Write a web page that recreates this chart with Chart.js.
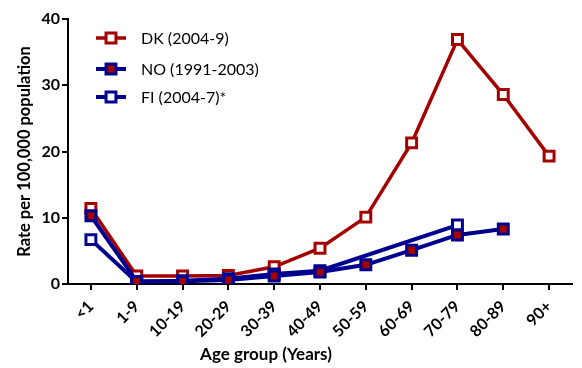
<!DOCTYPE html>
<html>
<head>
<meta charset="utf-8">
<script src="https://cdn.jsdelivr.net/npm/chart.js@4/dist/chart.umd.min.js"></script>
<style>
  html, body { margin: 0; padding: 0; background: #fff; }
  #wrap { width: 582px; height: 368px; }
</style>
</head>
<body>
<div id="wrap"><canvas id="c" width="582" height="368"></canvas></div>
<script>
// Age groups along the x axis
const ageGroups = ['<1', '1-9', '10-19', '20-29', '30-39', '40-49', '50-59', '60-69', '70-79', '80-89', '90+'];
// Incidence rates per 100,000 population
const dkRates = [11.4, 1.2, 1.2, 1.3, 2.6, 5.4, 10.1, 21.3, 36.9, 28.6, 19.3];
const noRates = [10.3, 0.4, 0.4, 0.6, 1.2, 1.8, 2.9, 5.1, 7.4, 8.3, null];
const fiRates = [6.7, 0.3, 0.5, 0.8, 1.5, 2.0, null, null, 8.9, null, null];
const seriesNames = ['DK (2004-9)', 'NO (1991-2003)', 'FI (2004-7)*'];
const yTicks = [0, 10, 20, 30, 40];

const RED = '#a50000';
const BLUE = '#00008f';
const FONT = 'Lato, "Open Sans", sans-serif';

function seriesStyle(color, fill, width, order) {
  return {
    borderColor: color,
    backgroundColor: fill,
    borderWidth: width,
    pointStyle: 'rect',
    pointRadius: 7,
    pointHoverRadius: 7,
    pointBorderWidth: 3,
    pointBorderColor: color,
    pointBackgroundColor: fill,
    tension: 0,
    spanGaps: true,
    fill: false,
    order: order
  };
}

const datasets = [
  Object.assign({ label: seriesNames[0], data: dkRates }, seriesStyle(RED, '#ffffff', 3.5, 3)),
  Object.assign({ label: seriesNames[1], data: noRates }, seriesStyle(BLUE, RED, 4, 1)),
  Object.assign({ label: seriesNames[2], data: fiRates }, seriesStyle(BLUE, '#ffffff', 4, 2))
];

// Legend drawn inside the plot: a short line with the series marker, then the name
const insideLegend = {
  id: 'insideLegend',
  afterDraw(chart) {
    const ctx = chart.ctx;
    const rows = [38, 69, 97];
    ctx.save();
    chart.data.datasets.forEach((ds, i) => {
      const y = rows[i];
      ctx.strokeStyle = ds.borderColor;
      ctx.lineWidth = ds.borderWidth;
      ctx.beginPath();
      ctx.moveTo(96, y);
      ctx.lineTo(126, y);
      ctx.stroke();
      const s = ds.pointRadius * Math.SQRT1_2;
      ctx.fillStyle = ds.pointBackgroundColor;
      ctx.lineWidth = ds.pointBorderWidth;
      ctx.strokeStyle = ds.pointBorderColor;
      ctx.beginPath();
      ctx.rect(111 - s, y - s, 2 * s, 2 * s);
      ctx.fill();
      ctx.stroke();
      ctx.fillStyle = '#000';
      ctx.font = '16px ' + FONT;
      ctx.textBaseline = 'middle';
      ctx.textAlign = 'left';
      ctx.fillText(ds.label, 141, y + 1);
    });
    // x axis title
    ctx.font = 'bold 17px ' + FONT;
    ctx.textAlign = 'center';
    ctx.textBaseline = 'middle';
    ctx.fillStyle = '#000';
    ctx.fillText('Age group (Years)', 266, 355);
    ctx.restore();
  }
};

new Chart(document.getElementById('c'), {
  type: 'line',
  data: { labels: ageGroups, datasets: datasets },
  options: {
    responsive: false,
    animation: false,
    events: [],
    layout: { padding: { top: 19, right: 0, left: 0, bottom: 0 } },
    plugins: { legend: { display: false }, tooltip: { enabled: false } },
    scales: {
      x: {
        offset: true,
        grid: { drawOnChartArea: false, drawTicks: true, tickLength: 6, color: '#000', lineWidth: 2, offset: false },
        border: { color: '#000', width: 2 },
        ticks: {
          color: '#000', font: { family: FONT, size: 16, weight: 'bold' },
          minRotation: 45, maxRotation: 45, padding: 7, autoSkip: false
        },
        afterFit(scale) { scale.height = 84; }
      },
      y: {
        min: 0, max: 40,
        grid: { drawOnChartArea: false, drawTicks: true, tickLength: 6, color: '#000', lineWidth: 2 },
        border: { color: '#000', width: 2 },
        afterBuildTicks(scale) { scale.ticks = yTicks.map(v => ({ value: v })); },
        ticks: { color: '#000', font: { family: FONT, size: 16, weight: 'bold' }, padding: 2 },
        title: {
          display: true, text: 'Rate per 100,000 population', color: '#000',
          font: { family: FONT, size: 16.5, weight: 'bold' }, padding: { top: 15, bottom: 0 }
        },
        afterFit(scale) { scale.width = 68; }
      }
    }
  },
  plugins: [insideLegend]
});
</script>
</body>
</html>
